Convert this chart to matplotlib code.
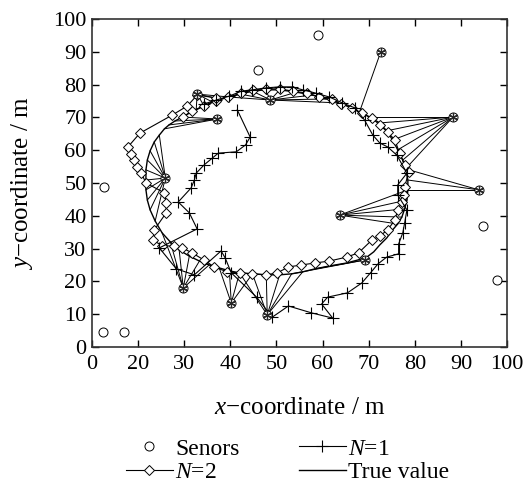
import numpy as np
import matplotlib.pyplot as plt

# fonts (Times-like)
plt.rcParams.update({
    "font.family": "Liberation Serif",
    "mathtext.fontset": "custom",
    "mathtext.rm": "Liberation Serif",
    "mathtext.it": "Liberation Serif:italic",
    "font.size": 16,
})

# sensors that did not take part (open circles)
sensor_x = [59.1, 45.9, 12.6, 12.4, 17.0, 94.8, 97.8]
sensor_y = [95.1, 84.5, 48.8, 4.6, 4.6, 36.9, 20.4]

# sensors that took part, with the indices of the true-path points they observed
anchor_x = [72.6, 88.3, 93.9, 63.7, 69.1, 48.0, 40.2, 29.8, 25.9, 37.2, 32.8, 48.7]
anchor_y = [89.9, 70.1, 47.9, 40.2, 26.5, 9.8, 13.4, 18.0, 51.5, 69.5, 77.1, 75.3]
anchor_links = [
    [51],
    list(range(44, 51)),
    [42, 43, 44],
    list(range(38, 43)),
    [27, 29],
    list(range(23, 29)),
    list(range(21, 25)),
    list(range(15, 21)),
    list(range(5, 15)),
    list(range(1, 5)),
    list(range(61, 66)),
    list(range(53, 62)),
]

# true trajectory
true_x = [31.1, 29.6, 28.0, 26.7, 25.7, 24.6, 23.5, 22.6, 22.0, 21.7, 21.7, 21.7, 22.0,
          22.6, 23.7, 25.2, 27.0, 28.9, 31.1, 33.3, 35.4, 37.6, 39.8, 42.0, 44.8, 47.8,
          50.7, 53.3, 55.7, 58.3, 61.5, 65.2, 67.6, 69.6, 71.1, 72.4, 73.9, 75.2, 76.3,
          77.2, 77.8, 78.3, 78.5, 78.5, 78.0, 77.4, 76.3, 75.2, 73.9, 72.4, 70.2, 68.0,
          65.9, 63.7, 60.9, 57.8, 54.3, 50.7, 47.6, 44.8, 42.2, 39.8, 37.8, 36.1, 34.3,
          32.6, 31.1]
true_y = [71.3, 70.1, 68.9, 67.7, 66.5, 64.6, 62.5, 59.8, 57.0, 54.0, 50.9, 47.9, 44.8,
          41.8, 38.4, 34.8, 32.0, 29.6, 27.7, 26.2, 25.0, 24.1, 23.2, 22.6, 22.3, 22.0,
          22.0, 22.3, 22.9, 23.8, 24.7, 25.6, 26.5, 27.4, 29.0, 31.1, 33.2, 35.7, 37.5,
          39.6, 42.1, 44.8, 47.9, 50.9, 54.3, 57.0, 60.1, 63.1, 65.9, 68.3, 70.1, 71.6,
          73.2, 74.4, 75.6, 76.8, 77.7, 78.4, 78.4, 78.0, 77.1, 76.2, 75.6, 74.7, 73.5,
          72.3, 71.3]

# estimate with N=2
n2_x = [29.8, 31.7, 34.3, 37.0, 39.6, 42.4, 45.0, 47.8, 50.7, 53.5, 56.7, 59.3, 62.0,
        64.1, 66.3, 68.5, 70.7, 72.4, 74.1, 75.7, 76.7, 77.8, 78.7, 77.8, 77.6, 77.2,
        76.3, 75.7, 74.1, 72.4, 70.7, 67.8, 65.2, 61.5, 58.3, 55.4, 52.6, 50.2, 47.8,
        44.8, 42.0, 39.3, 36.5, 34.3, 31.7, 29.6, 27.8, 25.2, 23.3, 23.5, 26.1, 26.1,
        25.7, 21.7, 20.7, 19.8, 19.1, 18.5, 17.8, 20.4, 27.4, 30.7, 32.8, 37.0]
n2_y = [70.1, 72.0, 73.5, 75.0, 76.2, 77.4, 78.4, 78.7, 78.7, 78.0, 77.4, 76.2, 75.6,
        74.1, 72.9, 71.3, 69.8, 67.7, 65.5, 63.1, 59.1, 55.5, 53.4, 48.8, 46.3, 44.2,
        41.8, 38.7, 35.7, 33.8, 32.6, 28.7, 27.4, 26.2, 25.6, 25.0, 24.4, 22.6, 22.0,
        22.3, 22.6, 22.9, 24.4, 26.5, 28.7, 30.2, 30.8, 30.8, 32.6, 35.7, 40.9, 43.9,
        47.0, 50.0, 53.0, 54.9, 57.0, 58.8, 61.0, 65.2, 70.7, 73.5, 76.8, 75.9]

# estimate with N=1
n1_x = [41.5, 44.3, 43.3, 41.3, 37.4, 36.1, 34.3, 32.6, 32.2, 31.5, 28.7, 31.1, 32.8,
        24.6, 28.3, 32.2, 38.0, 38.9, 40.2, 45.7, 49.1, 52.6, 57.6, 62.2, 59.8, 61.1,
        65.4, 68.5, 70.4, 72.0, 73.9, 76.5, 76.5, 77.4, 77.8, 78.3, 76.3, 76.3, 78.3,
        76.1, 74.1, 72.4, 70.9, 69.1, 67.0, 64.3, 61.5, 58.5, 55.7, 53.3, 50.7, 47.8,
        44.8, 42.4, 39.8, 37.0, 34.3]
n1_y = [72.3, 64.0, 61.6, 59.5, 59.1, 57.6, 55.5, 53.0, 50.9, 48.5, 44.2, 40.9, 36.0,
        30.2, 23.8, 22.0, 29.3, 27.1, 22.6, 15.2, 9.1, 12.5, 10.4, 8.8, 13.1, 15.2,
        16.5, 19.5, 22.6, 25.3, 27.4, 28.4, 31.4, 34.8, 37.8, 41.8, 46.3, 49.4, 53.0,
        58.5, 61.0, 62.2, 64.6, 69.2, 72.9, 74.4, 76.2, 77.4, 78.4, 79.3, 79.3, 79.0,
        78.4, 78.0, 76.5, 75.3, 74.1]

xtick_pos = [10, 20, 30, 40, 50, 60, 70, 80, 90, 100]
xtick_lab = ["0", "20", "30", "40", "50", "60", "70", "80", "90", "100"]
ytick_pos = [0, 10, 20, 30, 40, 50, 60, 70, 80, 90, 100]

fig = plt.figure(figsize=(5.23, 4.84), dpi=100)
ax = fig.add_axes([0.1759, 0.2831, 0.7935, 0.6777])

# rays from the observing sensors to the path
for sx, sy, links in zip(anchor_x, anchor_y, anchor_links):
    for i in links:
        ax.plot([sx, true_x[i]], [sy, true_y[i]], color="k", lw=0.7)

h_true, = ax.plot(true_x, true_y, color="k", lw=1.0, label="True value")
h_n2, = ax.plot(n2_x, n2_y, color="k", lw=0.8, marker="D", markersize=5.5,
                markerfacecolor="white", markeredgewidth=0.7, label="$N$=2")
h_n1, = ax.plot(n1_x, n1_y, color="k", lw=0.8, marker="+", markersize=8,
                markeredgewidth=0.8, label="$N$=1")
h_s, = ax.plot(sensor_x + anchor_x, sensor_y + anchor_y, ls="none", marker="o",
               markersize=6.5, markerfacecolor="white", markeredgecolor="k",
               markeredgewidth=0.7, label="Senors")
ax.plot(anchor_x, anchor_y, ls="none", marker=(6, 2, 0), markersize=6,
        color="0.15", markeredgewidth=0.9)

ax.set_xlim(10, 100)
ax.set_ylim(0, 100)
ax.set_xticks(xtick_pos)
ax.set_xticklabels(xtick_lab)
ax.set_yticks(ytick_pos)
ax.tick_params(direction="in", length=5, width=1, top=True, right=True,
               labelsize=16, pad=4)
ax.tick_params(axis="x", pad=6)
for s in ax.spines.values():
    s.set_color("#333333")
    s.set_linewidth(1.2)

ax.set_xlabel("$x$\u2212coordinate / m", fontsize=18, labelpad=16)
ax.set_ylabel("$y$\u2212coordinate / m", fontsize=18, labelpad=13)

fig.legend(handles=[h_s, h_n2, h_n1, h_true], ncol=2, frameon=False,
           loc="center", bbox_to_anchor=(0.55, 0.048), numpoints=1,
           handlelength=2.0, handletextpad=0.1, columnspacing=2.5,
           labelspacing=0.1, fontsize=17)

fig.savefig("out.png", dpi=100)
